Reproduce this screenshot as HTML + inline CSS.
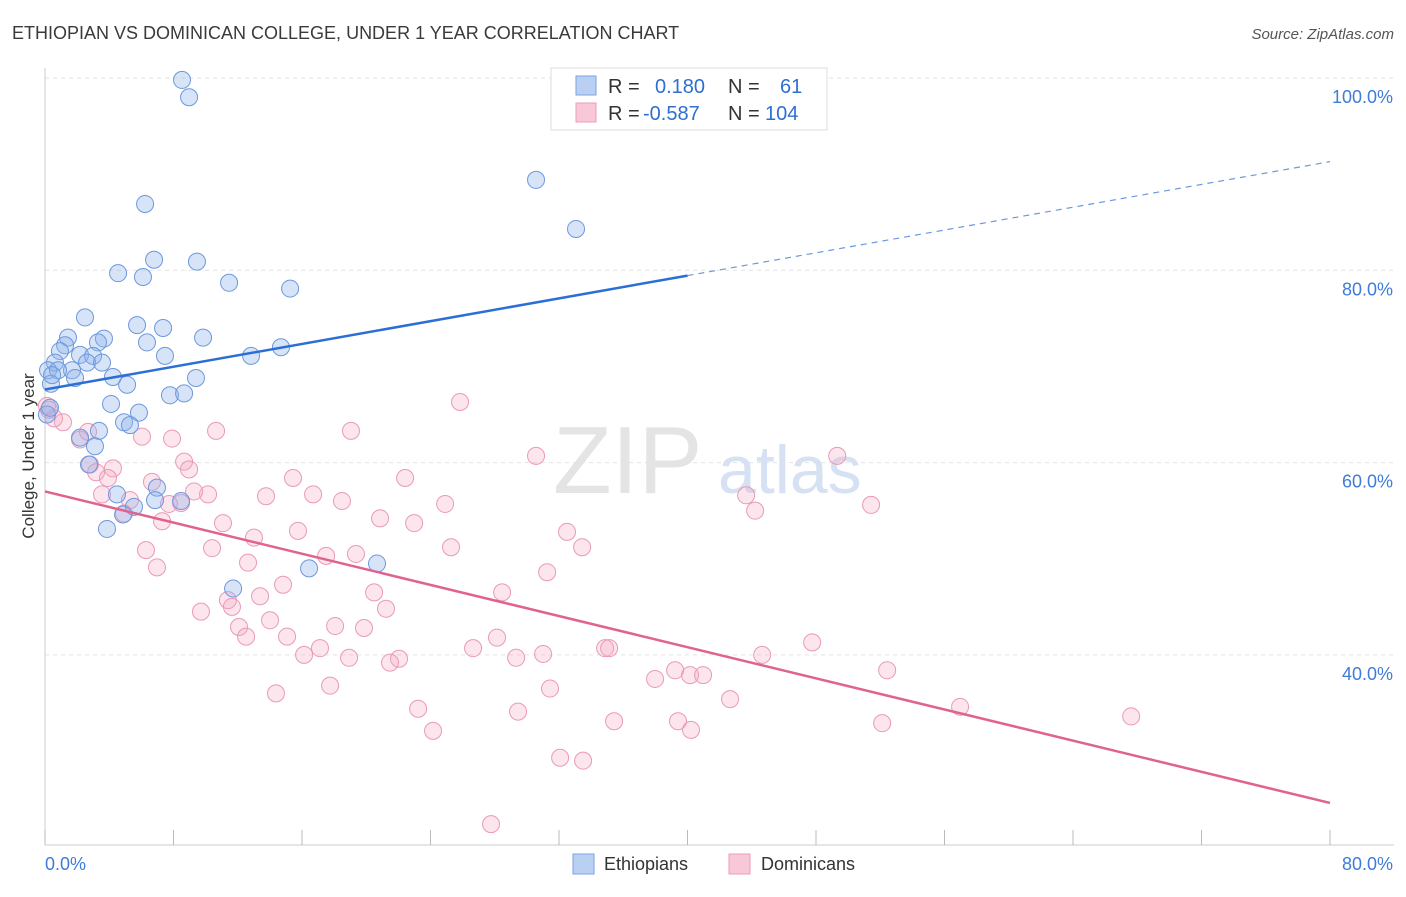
<!DOCTYPE html>
<html><head><meta charset="utf-8"><style>
body{margin:0;background:#fff;font-family:"Liberation Sans",sans-serif}
svg text{font-family:"Liberation Sans",sans-serif}
</style></head><body>
<svg id="chart" width="1406" height="892" viewBox="0 0 1406 892" xmlns="http://www.w3.org/2000/svg">
<text x="12" y="39" font-size="18" fill="#3a3a3a">ETHIOPIAN VS DOMINICAN COLLEGE, UNDER 1 YEAR CORRELATION CHART</text>
<text x="1394" y="39" font-size="15" fill="#555" font-style="italic" text-anchor="end">Source: ZipAtlas.com</text>
<g id="grid"></g>
<text x="553" y="493" font-size="96" fill="#e4e4e4" font-family="Liberation Serif">ZIP</text>
<text x="718" y="493" font-size="68" fill="#d6e2f3">atlas</text>
<g id="axes"></g>
<g id="pink"></g>
<g id="blue"></g>
<g id="lines"></g>
<text transform="translate(34,456) rotate(-90)" font-size="17" fill="#333" text-anchor="middle">College, Under 1 year</text>
<g>
<rect x="551" y="68" width="276" height="62" fill="#fff" stroke="#ddd"/>
<rect x="576" y="76" width="20" height="19" fill="#b9d0f3" stroke="#7aa3e3"/>
<rect x="576" y="103" width="20" height="19" fill="#f8c8d8" stroke="#eb9bb7"/>
<text x="608" y="93" font-size="20" fill="#333">R = </text><text x="655" y="93" font-size="20" fill="#2f6fd0">0.180</text>
<text x="728" y="93" font-size="20" fill="#333">N = </text><text x="780" y="93" font-size="20" fill="#2f6fd0">61</text>
<text x="608" y="120" font-size="20" fill="#333">R = </text><text x="643" y="120" font-size="20" fill="#2f6fd0">-0.587</text>
<text x="728" y="120" font-size="20" fill="#333">N = </text><text x="765" y="120" font-size="20" fill="#2f6fd0">104</text>
</g>
<g>
<rect x="573" y="854" width="21" height="20" fill="#b9d0f3" stroke="#7aa3e3"/>
<text x="604" y="870" font-size="18" fill="#333">Ethiopians</text>
<rect x="729" y="854" width="21" height="20" fill="#f8c8d8" stroke="#eb9bb7"/>
<text x="761" y="870" font-size="18" fill="#333">Dominicans</text>
</g>
</svg>
<script>
const yTicks=[100,80,60,40];
const yTickLabels=["100.0%","80.0%","60.0%","40.0%"];
const xEdgeLabels=["0.0%","80.0%"];
const blueX=[8.53,8.97,30.57,33.06,6.23,6.79,9.46,4.55,6.10,11.46,15.26,2.49,5.73,7.35,1.43,3.67,9.84,6.35,3.30,1.25,14.69,0.93,2.18,2.99,7.47,12.83,0.62,2.62,3.55,1.68,0.19,0.81,1.87,4.23,9.40,5.11,0.37,7.78,8.66,4.11,5.85,0.12,4.92,5.29,3.36,2.18,3.11,2.74,4.48,6.97,8.47,6.85,5.54,4.86,3.86,16.44,20.67,11.71,0.31,0.44];
const blueY=[99.8,98.0,89.4,84.3,86.9,81.1,80.9,79.7,79.3,78.7,78.1,75.1,74.3,74.0,73.0,72.9,73.0,72.5,72.5,72.2,72.0,71.6,71.2,71.1,71.1,71.1,70.4,70.4,70.4,69.6,69.6,69.6,68.8,68.9,68.8,68.1,68.2,67.0,67.2,66.1,65.2,65.0,64.2,63.9,63.3,62.6,61.7,59.8,56.7,57.4,56.0,56.1,55.4,54.6,53.1,49.0,49.5,46.9,65.7,69.1];
const pinkX=[25.84,19.05,10.65,30.57,49.32,7.91,2.18,6.04,1.12,2.68,0.56,0.25,8.66,8.97,4.23,2.80,3.18,3.92,6.66,15.44,22.42,16.69,13.76,18.49,10.15,9.28,3.55,5.29,8.47,7.72,24.91,43.65,51.43,44.21,4.92,7.29,11.08,20.86,22.98,15.75,32.50,13.01,33.44,25.28,10.40,6.29,17.50,19.36,12.64,6.97,31.26,14.82,13.39,20.49,28.46,11.39,11.64,21.23,9.71,12.08,14.01,18.06,19.86,12.52,15.07,47.76,28.14,17.12,16.13,26.65,31.01,34.87,35.12,18.93,22.04,21.48,29.33,44.65,39.23,52.43,40.16,40.97,37.98,17.75,31.44,14.38,42.65,23.23,29.45,56.97,67.62,35.43,39.41,52.12,24.16,40.22,32.07,33.50,27.77,0.12];
const pinkY=[66.3,63.3,63.3,60.7,60.7,62.5,62.4,62.7,64.2,63.2,64.6,65.5,60.1,59.3,59.4,59.8,59.0,58.4,58.0,58.4,58.4,56.7,56.5,56.0,56.7,57.0,56.7,56.1,55.8,55.7,55.7,56.6,55.6,55.0,54.7,53.9,53.7,54.2,53.7,52.9,52.8,52.2,51.2,51.2,51.1,50.9,50.3,50.5,49.6,49.1,48.6,47.3,46.1,46.5,46.5,45.7,45.0,44.8,44.5,42.9,43.6,43.0,42.8,41.9,41.9,41.3,41.8,40.7,40.0,40.7,40.1,40.7,40.7,39.7,39.6,39.2,39.7,40.0,38.4,38.4,37.9,37.9,37.5,36.8,36.5,36.0,35.4,34.4,34.1,34.6,33.6,33.1,33.1,32.9,32.1,32.2,29.3,29.0,22.4,65.9];
const blueTrend=[67.6,91.3];
const pinkTrend=[57.0,24.6];
const NS="http://www.w3.org/2000/svg";
const xs=v=>45+v*(1285/80);
const ys=v=>78+(100-v)*(192.3/20);
function mk(tag,attrs,parent){const e=document.createElementNS(NS,tag);for(const k in attrs)e.setAttribute(k,attrs[k]);parent.appendChild(e);return e;}
const grid=document.getElementById('grid'),axes=document.getElementById('axes');
yTicks.forEach((t,i)=>{
 const l=mk('line',{x1:45,x2:1394,y1:ys(t),y2:ys(t),stroke:'#e2e2e2','stroke-dasharray':'4,4'},grid);
 
 
 const tx=mk('text',{x:1393,y:ys(t)+25,'font-size':18,fill:'#3f7bd8','text-anchor':'end'},axes);
 tx.textContent=yTickLabels[i];
 
 
});
const ax=mk('line',{x1:45,x2:1394,y1:845,y2:845,stroke:'#ccc'},axes);


const ay=mk('line',{x1:45,x2:45,y1:68,y2:845,stroke:'#ccc'},axes);


for(let v=0;v<=80;v+=8){
 const t=mk('line',{x1:xs(v),x2:xs(v),y1:830,y2:845,stroke:'#bbb'},axes);
 
 
}
[0,80].forEach((v,i)=>{
 const t=mk('text',{x:i?1393:45,y:870,'font-size':18,fill:'#3f7bd8','text-anchor':i?'end':'start'},axes);
 t.textContent=xEdgeLabels[i];
 
 
});
function pts(X,Y,g,fill,stroke,name){
 X.forEach((x,i)=>{
  const c=mk('circle',{cx:xs(x),cy:ys(Y[i]),r:8.5,fill:fill,stroke:stroke,'stroke-width':1},g);
  
  
 });
}
pts(pinkX,pinkY,document.getElementById('pink'),'rgba(244,170,196,0.3)','#e99ab6','dominican-point');
pts(blueX,blueY,document.getElementById('blue'),'rgba(140,178,236,0.35)','#6c98de','ethiopian-point');
const lg=document.getElementById('lines');
const bAt=v=>blueTrend[0]+(blueTrend[1]-blueTrend[0])*v/80;
const b1=mk('line',{x1:xs(0),y1:ys(bAt(0)),x2:xs(40),y2:ys(bAt(40)),stroke:'#2b6fd6','stroke-width':2.5},lg);


const b2=mk('line',{x1:xs(40),y1:ys(bAt(40)),x2:xs(80),y2:ys(bAt(80)),stroke:'#6c98de','stroke-width':1.2,'stroke-dasharray':'6,5'},lg);


const p1=mk('line',{x1:xs(0),y1:ys(pinkTrend[0]),x2:xs(80),y2:ys(pinkTrend[1]),stroke:'#e0638f','stroke-width':2.5},lg);


</script>
</body></html>
